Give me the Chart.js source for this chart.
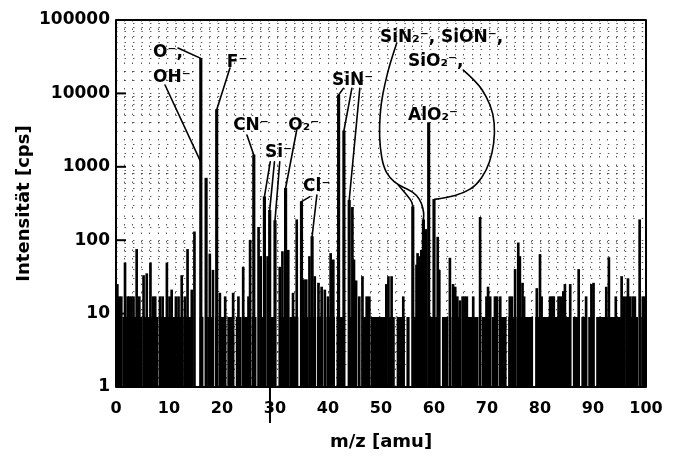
<!DOCTYPE html>
<html>
<head>
<meta charset="utf-8">
<script src="https://cdn.jsdelivr.net/npm/chart.js@4.4.1/dist/chart.umd.min.js"></script>
<style>
  html, body { margin: 0; padding: 0; background: #fff; }
</style>
</head>
<body>
<canvas id="myChart" width="674" height="458"></canvas>
<script>
// labelled peaks: m/z [amu] and intensity [cps]
var peakMz  = [16, 17, 19, 26, 28, 29, 30, 32, 35, 37, 42, 43, 44, 56, 58, 59, 60];
var peakCps = [30000, 700, 6000, 1450, 390, 255, 185, 510, 335, 112, 9500, 3100, 350, 286, 190, 4000, 360];

// smaller lines standing out of the background
var noiseMz = [0.25, 0.6, 1.0, 1.7, 2.2, 2.5, 2.9, 3.3, 3.9, 4.4, 5.2, 5.8, 6.5, 7.0, 7.4, 8.3, 8.8, 9.6,
  10.1, 10.5, 11.3, 11.8, 12.4, 13.0, 13.5, 14.3, 14.8, 17.7, 18.3, 19.6, 20.6, 22.1, 23.1, 24.0, 25.0,
  25.3, 26.9, 27.3, 28.6, 30.9, 31.4, 32.5, 33.4, 34.1, 35.4, 35.9, 36.5, 37.5, 38.2, 38.8, 39.4, 40.0,
  40.5, 41.0, 44.6, 44.9, 45.3, 45.9, 46.5, 47.3, 47.8, 51.0, 51.4, 52.0, 54.2, 56.7, 56.9, 57.2, 57.6,
  58.5, 60.7, 61.0, 63.0, 63.6, 64.0, 64.4, 64.9, 65.4, 65.8, 66.2, 67.4, 68.7, 69.9, 70.2, 70.6, 71.5,
  71.9, 72.5, 74.3, 74.7, 75.3, 75.9, 76.2, 76.7, 77.0, 79.4, 80.0, 80.3, 81.9, 82.3, 82.6, 83.5, 83.9,
  84.4, 84.7, 85.7, 87.3, 88.7, 89.7, 90.1, 92.5, 93.0, 94.3, 95.4, 95.8, 96.3, 96.6, 97.0, 97.5, 97.9,
  98.8, 99.4, 99.8];
var noiseCps = [25, 17, 17, 49, 17, 17, 17, 17, 75, 17, 33, 35, 49, 17, 17, 17, 17, 49,
  17, 21, 17, 17, 33, 17, 75, 21, 130, 65, 39, 19, 17, 19, 17, 43, 17,
  100, 150, 60, 60, 43, 70, 73, 19, 190, 29, 29, 60, 32, 26, 23, 21, 17,
  66, 54, 280, 54, 28, 17, 32, 17, 17, 25, 32, 32, 17, 46, 66, 60, 73,
  140, 110, 39, 57, 25, 23, 17, 15, 17, 17, 17, 17, 205, 17, 23, 17, 17,
  17, 17, 17, 17, 40, 92, 60, 26, 17, 22, 64, 17, 17, 17, 17, 17, 17,
  20, 25, 25, 40, 17, 25, 26, 23, 58, 17, 32, 17, 17, 30, 17, 17, 17,
  190, 17, 17];

// stretches where the background sits at ~9 cps (elsewhere ~1 cps)
var floorFrom = [0.0, 1.2, 5.2, 8.2, 10.6, 13.0, 15.8, 17.2, 18.7, 19.75, 21.0, 22.6, 24.1, 25.6, 27.2, 29.0,
  30.9, 32.7, 35.0, 36.6, 37.9, 39.7, 41.6, 43.8, 45.0, 46.4, 48.1, 51.4, 52.95, 54.8, 56.1, 57.4, 59.2, 60.2,
  61.5, 63.3, 65.5, 69.0, 70.9, 72.5, 74.0, 76.2, 79.1, 82.2, 86.2, 87.8, 89.1, 90.6, 96.6, 99.1];
var floorTo = [1.0, 5.0, 8.0, 10.4, 12.8, 14.6, 16.5, 18.2, 19.3, 20.4, 22.0, 23.7, 25.1, 26.5, 28.3, 30.2,
  32.2, 34.4, 36.3, 37.5, 39.1, 41.3, 43.2, 44.5, 45.4, 47.9, 51.1, 52.6, 54.5, 55.4, 57.0, 58.3, 59.9, 61.1,
  62.7, 64.9, 68.4, 70.6, 72.1, 73.7, 75.6, 78.7, 81.9, 85.6, 87.2, 88.7, 90.0, 96.0, 98.5, 99.9];
var floorCps = 9;

var xTicks = [0, 10, 20, 30, 40, 50, 60, 70, 80, 90, 100];
var yTicks = [1, 10, 100, 1000, 10000, 100000];

// peak labels, placed at (m/z, cps) of the text baseline start
var labels = [
  { text: 'O\u207B,', mz: 7.0, cps: 31300 },
  { text: 'OH\u207B', mz: 7.0, cps: 14300 },
  { text: 'F\u207B', mz: 20.9, cps: 22800 },
  { text: 'CN\u207B', mz: 22.1, cps: 3170 },
  { text: 'Si\u207B', mz: 28.1, cps: 1360 },
  { text: 'O\u2082\u207B', mz: 32.5, cps: 3170 },
  { text: 'Cl\u207B', mz: 35.3, cps: 468 },
  { text: 'SiN\u207B', mz: 40.75, cps: 13000 },
  { text: 'SiN\u2082\u207B, SiON\u207B,', mz: 49.8, cps: 50900 },
  { text: 'SiO\u2082\u207B,', mz: 55.1, cps: 23600 },
  { text: 'AlO\u2082\u207B', mz: 55.1, cps: 4340 }
];

// leader lines from the labels to the peaks, as (m/z, cps) points
var leaders = [
  [[11.7, 41500], [16, 30000]],
  [[9.25, 13000], [16.1, 1120]],
  [[21.5, 22200], [19, 6000]],
  [[24.7, 2710], [26, 1450]],
  [[29.1, 1170], [28, 390]],
  [[29.9, 1170], [29, 255]],
  [[30.9, 1170], [30, 185]],
  [[34.1, 3170], [32, 510]],
  [[36.6, 392], [35, 335]],
  [[37.9, 413], [37, 112]],
  [[42.9, 11700], [42, 9500]],
  [[44.5, 11700], [43, 3100]],
  [[46.0, 11700], [44, 350]],
  [[52.96, 48100], [51.7, 25700], [50.75, 13700], [50.0, 7330], [49.68, 3520], [49.81, 1880], [50.43, 1000],
    [51.7, 697], [53.26, 565], [55.15, 494], [56.74, 413], [57.68, 318], [58.11, 233], [58, 190]],
  [[53.26, 565], [55.15, 392], [55.85, 331], [56, 286]],
  [[65.53, 20800], [68.06, 14400], [69.94, 9020], [71.19, 5350], [71.51, 2860], [71.0, 1530], [69.94, 904],
    [68.06, 565], [65.53, 435], [62.4, 379], [60.1, 360]]
];
var strayMz = 29.05;

var FONT = 'DejaVu Sans';

var floorPoints = [];
for (var i = 0; i < floorFrom.length; i++) {
  floorPoints.push({ x: floorFrom[i], y: 1 }, { x: floorFrom[i], y: floorCps },
    { x: floorTo[i], y: floorCps }, { x: floorTo[i], y: 1 });
}

var decorations = {
  id: 'decorations',
  afterDatasetsDraw: function (chart) {
    var ctx = chart.ctx, xs = chart.scales.x, ys = chart.scales.y, area = chart.chartArea;
    function px(p) { return [xs.getPixelForValue(p[0]), ys.getPixelForValue(p[1])]; }
    ctx.save();
    ctx.strokeStyle = '#000';
    ctx.lineWidth = 1.6;
    ctx.lineCap = 'round';
    ctx.lineJoin = 'round';
    leaders.forEach(function (pts) {
      var p = pts.map(px);
      ctx.beginPath();
      ctx.moveTo(p[0][0], p[0][1]);
      for (var k = 1; k < p.length - 1; k++) {
        ctx.quadraticCurveTo(p[k][0], p[k][1], (p[k][0] + p[k + 1][0]) / 2, (p[k][1] + p[k + 1][1]) / 2);
      }
      ctx.lineTo(p[p.length - 1][0], p[p.length - 1][1]);
      ctx.stroke();
    });

    ctx.fillStyle = '#000';
    ctx.font = 'bold 17px "' + FONT + '"';
    ctx.textAlign = 'left';
    ctx.textBaseline = 'alphabetic';
    labels.forEach(function (l) {
      ctx.fillText(l.text, xs.getPixelForValue(l.mz), ys.getPixelForValue(l.cps));
    });

    // frame, inner decade ticks, and the stroke below the axis
    ctx.lineCap = 'butt';
    ctx.lineWidth = 2;
    ctx.strokeRect(area.left, area.top, area.right - area.left, area.bottom - area.top);
    yTicks.forEach(function (v) {
      var y = ys.getPixelForValue(v);
      ctx.beginPath();
      ctx.moveTo(area.left, y);
      ctx.lineTo(area.left + 10, y);
      ctx.stroke();
    });
    var sx = xs.getPixelForValue(strayMz);
    ctx.beginPath();
    ctx.moveTo(sx, area.bottom);
    ctx.lineTo(sx, area.bottom + 36);
    ctx.stroke();
    ctx.restore();
  }
};

var ctx = document.getElementById('myChart').getContext('2d');
var myChart = new Chart(ctx, {
  type: 'bar',
  data: {
    datasets: [{
      type: 'line',
      label: 'floor',
      data: floorPoints,
      borderWidth: 0,
      pointRadius: 0,
      fill: 'start',
      backgroundColor: '#000',
      order: 3
    }, {
      label: 'noise',
      data: noiseMz.map(function (m, i) { return { x: m, y: noiseCps[i] }; }),
      backgroundColor: '#000',
      barThickness: 2,
      grouped: false,
      order: 2
    }, {
      label: 'peaks',
      data: peakMz.map(function (m, i) { return { x: m, y: peakCps[i] }; }),
      backgroundColor: '#000',
      barThickness: 2.5,
      grouped: false,
      order: 1
    }]
  },
  options: {
    responsive: false,
    animation: false,
    devicePixelRatio: 1,
    layout: { padding: { left: 0, top: 20, right: 28, bottom: 0 } },
    plugins: { legend: { display: false }, tooltip: { enabled: false } },
    scales: {
      x: {
        type: 'linear',
        min: 0,
        max: 100,
        offset: false,
        grid: { display: false, offset: false },
        border: { display: false },
        afterBuildTicks: function (s) { s.ticks = xTicks.map(function (v) { return { value: v }; }); },
        afterFit: function (s) { s.height = 71; },
        ticks: {
          padding: 4,
          color: '#000',
          maxRotation: 0,
          autoSkip: false,
          font: { family: FONT, size: 16, weight: 'bold' }
        },
        title: {
          display: true,
          text: 'm/z [amu]',
          color: '#000',
          font: { family: FONT, size: 18, weight: 'bold' },
          padding: { top: 0, bottom: 5 }
        }
      },
      xg: {
        type: 'linear',
        position: 'bottom',
        min: 0,
        max: 100,
        offset: false,
        ticks: { display: false, stepSize: 1.6 },
        grid: { color: 'rgba(0,0,0,0.65)', lineWidth: 1, drawTicks: false, offset: false },
        border: { display: false, dash: [1.5, 7] },
        afterFit: function (s) { s.height = 0; }
      },
      y: {
        type: 'logarithmic',
        min: 1,
        max: 100000,
        grid: { color: 'rgba(0,0,0,0.65)', lineWidth: 1, drawTicks: false },
        border: { display: false, dash: [1.5, 6.98] },
        afterFit: function (s) { s.width = 116; },
        ticks: {
          autoSkip: false,
          padding: 6,
          color: '#000',
          font: { family: FONT, size: 17, weight: 'bold' },
          callback: function (v) { return yTicks.indexOf(v) >= 0 ? String(v) : ''; }
        },
        title: {
          display: true,
          text: 'Intensit\u00e4t [cps]',
          color: '#000',
          font: { family: FONT, size: 18, weight: 'bold' },
          padding: { top: 14, bottom: 0 }
        }
      }
    }
  },
  plugins: [decorations]
});
</script>
</body>
</html>
